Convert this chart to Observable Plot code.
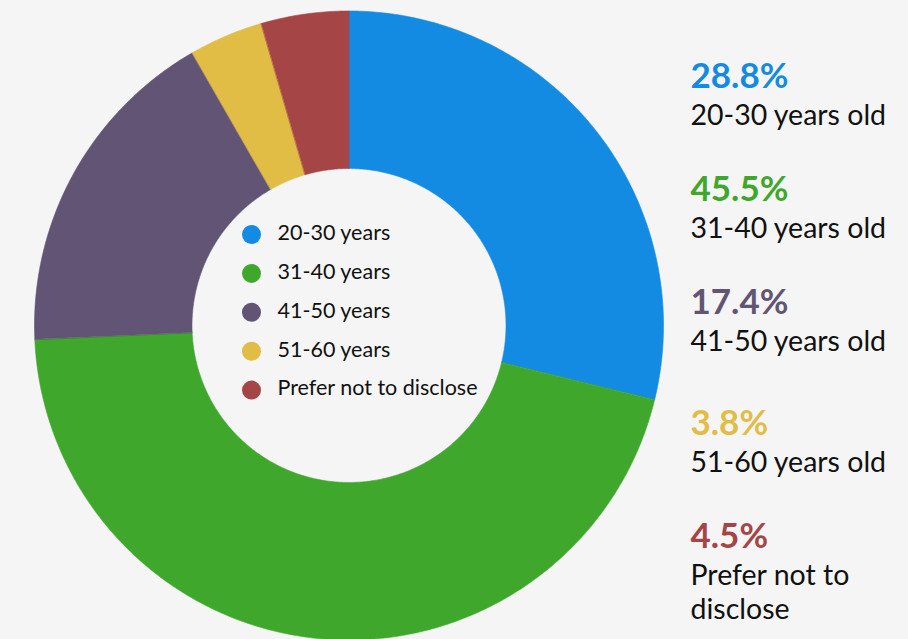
<!DOCTYPE html>
<html>
<head>
<meta charset="utf-8">
<script src="https://cdn.jsdelivr.net/npm/d3@7"></script>
<script src="https://cdn.jsdelivr.net/npm/@observablehq/plot@0.6"></script>
<style>
  html, body { margin: 0; padding: 0; background: #f5f5f5; }
  body { width: 908px; height: 639px; overflow: hidden; }
  svg { display: block; }
</style>
</head>
<body>
<div id="chart"></div>
<script>
// ---- data ----
const categories = ["20-30 years", "31-40 years", "41-50 years", "51-60 years", "Prefer not to disclose"];
const shares = [28.8, 45.5, 17.4, 3.8, 4.5];
const sideLabels = ["20-30 years old", "31-40 years old", "41-50 years old", "51-60 years old", "Prefer not to\ndisclose"];
const colors = ["#138be2", "#3fa82c", "#625474", "#e1bd45", "#a64545"];

// ---- layout (pixels) ----
const W = 908, H = 639;
const cx = 348.5, cy = 325, R = 314.5, r0 = 157;
const legendDotX = 251, legendTextX = 277, legendTop = 234, legendStep = 38.9;
const sideX = 690;
const sidePctBaselines = [87, 200, 313, 434, 547];
const pctSize = 35, labelSize = 28.5;

// ---- build slice polygons from the data ----
const total = d3.sum(shares);
const slices = [];
let acc = 0;
categories.forEach((cat, i) => {
  const a0 = acc / total * 2 * Math.PI;
  acc += shares[i];
  const a1 = acc / total * 2 * Math.PI;
  const n = Math.max(4, Math.ceil((a1 - a0) / (Math.PI / 360)));
  const pts = [];
  for (let k = 0; k <= n; k++) {
    const a = a0 + (a1 - a0) * k / n;
    pts.push({cat, x: cx + R * Math.sin(a), y: cy - R * Math.cos(a)});
  }
  for (let k = n; k >= 0; k--) {
    const a = a0 + (a1 - a0) * k / n;
    pts.push({cat, x: cx + r0 * Math.sin(a), y: cy - r0 * Math.cos(a)});
  }
  slices.push(...pts);
});

const legend = categories.map((cat, i) => ({cat, i}));
const side = categories.map((cat, i) => ({
  cat, i,
  pct: shares[i].toFixed(1) + "%",
  label: sideLabels[i]
}));

const plot = Plot.plot({
  width: W,
  height: H,
  margin: 0,
  style: {background: "#f5f5f5", fontFamily: "Lato, 'Open Sans', sans-serif", overflow: "visible"},
  x: {domain: [0, W], range: [0, W], axis: null},
  y: {domain: [0, H], range: [0, H], axis: null},
  color: {domain: categories, range: colors},
  marks: [
    Plot.line(slices, {
      x: "x", y: "y", z: "cat", fill: "cat", stroke: "cat",
      strokeWidth: 0.6, curve: "linear-closed"
    }),
    Plot.dot(legend, {
      x: () => legendDotX, y: d => legendTop + d.i * legendStep,
      r: 9.5, fill: "cat", stroke: null
    }),
    Plot.text(legend, {
      x: () => legendTextX, y: d => legendTop - 1.5 + d.i * legendStep,
      text: "cat", textAnchor: "start", lineAnchor: "middle",
      fontSize: 21.5, fill: "#111"
    }),
    Plot.text(side, {
      x: () => sideX, y: d => sidePctBaselines[d.i],
      text: "pct", textAnchor: "start", lineAnchor: "bottom",
      fontSize: pctSize, fontWeight: "bold", fill: "cat"
    }),
    Plot.text(side, {
      x: () => sideX, y: d => sidePctBaselines[d.i] + 33 - 0.71 * labelSize,
      text: "label", textAnchor: "start", lineAnchor: "top",
      fontSize: labelSize, lineHeight: 1.2, fill: "#111"
    })
  ]
});
document.getElementById("chart").appendChild(plot);
</script>
</body>
</html>
